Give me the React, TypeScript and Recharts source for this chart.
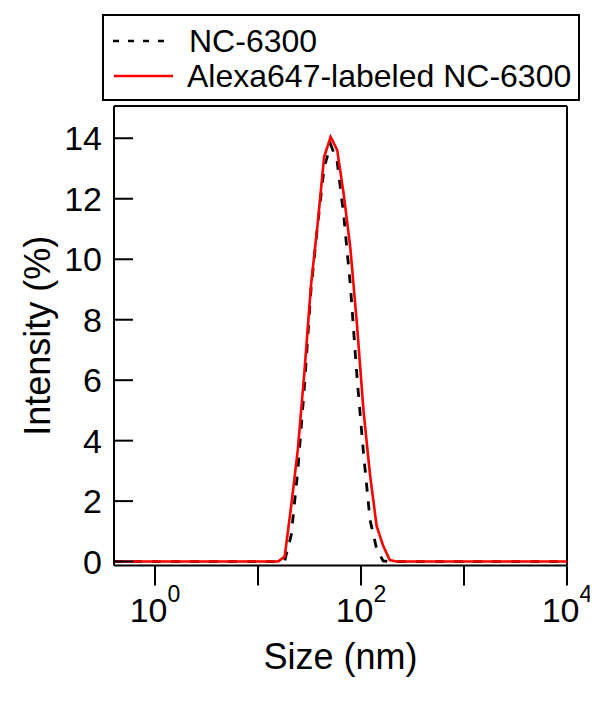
import React from 'react';
import { ComposedChart, Line, Scatter, XAxis, YAxis, ReferenceLine, Legend } from 'recharts';

const sizes = [0.4, 13.54, 15.69, 18.17, 21.04, 24.37, 28.22, 32.68, 37.84, 43.83, 50.76, 58.78, 68.07, 78.83, 91.3, 105.7, 122.4, 141.8, 164.2, 190.2, 220.3, 255.0, 10000];
const nc6300 = [0, 0, 0, 0.03, 0.88, 3.03, 5.78, 8.99, 11.1, 13.02, 13.8, 13.22, 11.43, 9.15, 6.14, 3.59, 1.38, 0.42, 0.02, 0, 0, 0, 0];
const alexa647 = [0, 0, 0, 0.17, 1.86, 3.71, 6.27, 9.13, 11.13, 13.38, 14.05, 13.61, 12.13, 10.37, 7.86, 5.0, 2.87, 1.18, 0.52, 0.05, 0, 0, 0];

const xTicks = [1, 10, 100, 1000, 10000];
const xTickExp: Record<number, string> = { 1: '0', 100: '2', 10000: '4' };
const yTicks = [0, 2, 4, 6, 8, 10, 12, 14];
const seriesNames = ['NC-6300', 'Alexa647-labeled NC-6300'];
const X_MIN = 0.4;
const X_MAX = 10000;
const Y_MIN = -0.13;
const Y_MAX = 15.07;

const data = sizes.map((s, i) => ({ size: s, nc: nc6300[i], alexa: alexa647[i] }));
const yTickPoints = yTicks.map((v) => ({ size: X_MIN, tick: v }));

const FONT = '"Liberation Sans", Arial, sans-serif';

const XTick = (props: any) => {
  const x = Number(props.x);
  const y = Number(props.y);
  const exp = xTickExp[props.payload.value];
  return (
    <g>
      <line x1={x} y1={y} x2={x} y2={y + 20} stroke="#000" strokeWidth={2} />
      {exp !== undefined && (
        <text x={x} y={y + 56} textAnchor="middle" fontSize={34} fontFamily={FONT} fill="#000">
          10
          <tspan dy={-20} fontSize={23}>{exp}</tspan>
        </text>
      )}
    </g>
  );
};

const YTick = (props: any) => {
  const x = Number(props.x);
  const y = Number(props.y);
  return (
    <text x={x - 12} y={y} textAnchor="end" dominantBaseline="central" fontSize={34} fontFamily={FONT} fill="#000">
      {props.payload.value}
    </text>
  );
};

// inward tick mark drawn at the scaled position of each y tick
const InwardTick = (props: any) => {
  const cx = Number(props.cx);
  const cy = Number(props.cy);
  if (!isFinite(cx) || !isFinite(cy)) return null;
  return <path d={`M${cx},${cy}H${cx + 19}`} stroke="#000" strokeWidth={2} fill="none" />;
};

const XLabel = (props: any) => {
  const vb = props.viewBox || {};
  const cx = vb.x + vb.width / 2;
  return (
    <text x={cx} y={vb.y + 103} textAnchor="middle" fontSize={36} fontFamily={FONT} fill="#000">
      Size (nm)
    </text>
  );
};

const YLabel = (props: any) => {
  const vb = props.viewBox || {};
  const cy = vb.y + vb.height / 2;
  const x = 42;
  return (
    <text x={x} y={cy} transform={`rotate(-90, ${x}, ${cy})`} textAnchor="middle" fontSize={36} fontFamily={FONT} fill="#000">
      Intensity (%)
    </text>
  );
};

const LegendBox = () => (
  <svg width={478} height={87} style={{ display: 'block' }}>
    <rect x={1} y={1} width={476} height={85} fill="#fff" stroke="#000" strokeWidth={2} />
    <line x1={11} y1={27} x2={66} y2={27} stroke="#000" strokeWidth={2.5} strokeDasharray="6 9" />
    <text x={87} y={27} dominantBaseline="central" fontSize={32} fontFamily={FONT} fill="#000">{seriesNames[0]}</text>
    <line x1={12} y1={62} x2={71} y2={62} stroke="#ff0000" strokeWidth={2.5} />
    <text x={85} y={62} dominantBaseline="central" fontSize={32} fontFamily={FONT} fill="#000">{seriesNames[1]}</text>
  </svg>
);

export default function App() {
  return (
    <div style={{ width: 590, height: 694 }}>
      <ComposedChart width={590} height={694} data={data} margin={{ top: 98, right: 31, bottom: 106.5, left: 46 }}>
        <XAxis
          dataKey="size"
          type="number"
          scale="log"
          domain={[X_MIN, X_MAX]}
          ticks={xTicks}
          allowDataOverflow
          height={30}
          tickSize={0}
          tickMargin={0}
          tickLine={false}
          axisLine={{ stroke: '#000', strokeWidth: 2 }}
          tick={<XTick />}
          interval={0}
          label={<XLabel />}
        />
        <YAxis
          type="number"
          domain={[Y_MIN, Y_MAX]}
          ticks={yTicks}
          allowDataOverflow
          width={60}
          tickSize={0}
          tickMargin={0}
          tickLine={false}
          axisLine={{ stroke: '#000', strokeWidth: 2 }}
          tick={<YTick />}
          interval={0}
          label={<YLabel />}
        />
        <ReferenceLine y={Y_MAX} stroke="#000" strokeWidth={2} />
        <ReferenceLine x={X_MAX} stroke="#000" strokeWidth={2} />
        <Scatter
          data={yTickPoints}
          dataKey="tick"
          shape={<InwardTick />}
          legendType="none"
          isAnimationActive={false}
        />
        <Line dataKey="nc" stroke="#000" strokeWidth={2.8} strokeDasharray="9 10" dot={false} isAnimationActive={false} />
        <Line dataKey="alexa" stroke="#ff0000" strokeWidth={2.6} dot={false} isAnimationActive={false} />
        <Legend
          layout="horizontal"
          verticalAlign="middle"
          align="center"
          wrapperStyle={{ left: 94, top: 6, width: 478, height: 87 }}
          content={<LegendBox />}
        />
      </ComposedChart>
    </div>
  );
}
